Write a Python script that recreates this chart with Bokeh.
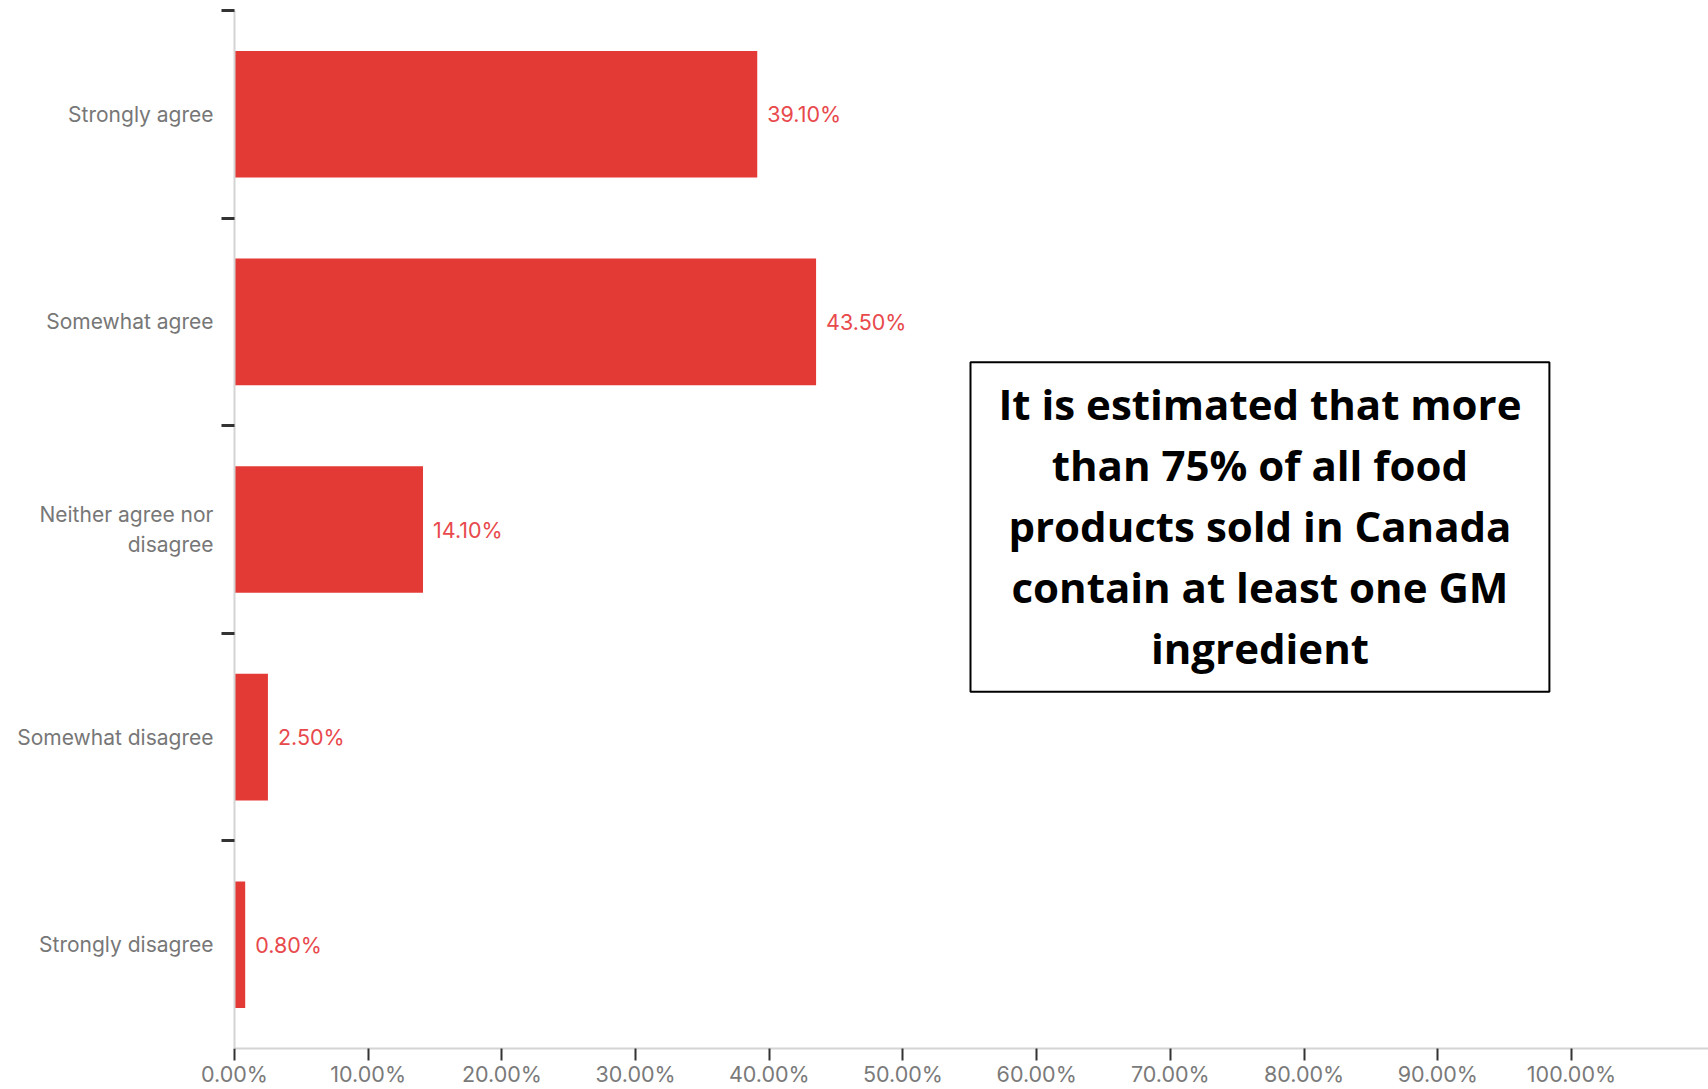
from bokeh.plotting import figure
from bokeh.models import FixedTicker, Range1d
from bokeh.core.properties import value
from bokeh.embed import file_html
from bokeh.resources import INLINE

# ---- data ----
categories = ["Strongly agree", "Somewhat agree", "Neither agree nor\ndisagree",
              "Somewhat disagree", "Strongly disagree"]
percentages = [39.1, 43.5, 14.1, 2.5, 0.8]
value_labels = ["39.10%", "43.50%", "14.10%", "2.50%", "0.80%"]
x_ticks = [0, 10, 20, 30, 40, 50, 60, 70, 80, 90, 100]
x_tick_labels = ["0.00%", "10.00%", "20.00%", "30.00%", "40.00%", "50.00%",
                 "60.00%", "70.00%", "80.00%", "90.00%", "100.00%"]
note_lines = ["It is estimated that more", "than 75% of all food",
              "products sold in Canada", "contain at least one GM", "ingredient"]

# layout helpers (band positions on a numeric axis, top category at top)
n = len(categories)
centers = [n - i - 0.5 for i in range(n)]
boundaries = [float(b) for b in range(1, n + 1)]

# note box in data units
box_left, box_right, box_top, box_bottom = 55.05, 98.35, 3.306, 1.718
note_x = [(box_left + box_right) / 2] * len(note_lines)
note_y = [5 - (b - 9.7) / 207.8 for b in [403, 464, 525, 586, 647]]

FONT = "Inter"
BAR = "#e43a36"

p = figure(width=1708, height=1089, output_backend="svg", toolbar_location=None,
           x_range=Range1d(0, 110.25), y_range=Range1d(0, 5))
p.min_border_left = 234
p.min_border_top = 10
p.min_border_bottom = 30
p.min_border_right = 0
p.outline_line_color = None
p.xgrid.grid_line_color = None
p.ygrid.grid_line_color = None
p.background_fill_color = "white"
p.border_fill_color = "white"

p.hbar(y=centers, right=percentages, left=0, height=0.61, color=BAR, line_color=None)
p.text(x=percentages, y=centers, text=value_labels, x_offset=10,
       text_baseline="middle", text_align="left", text_color="#e8494c",
       text_font=value(FONT), text_font_size="21.5px")

# note box
p.quad(left=[box_left], right=[box_right], top=[box_top], bottom=[box_bottom],
       fill_color="white", line_color="black", line_width=2)
p.text(x=note_x, y=note_y, text=note_lines, text_align="center",
       text_baseline="alphabetic", text_color="black",
       text_font=value("Open Sans"), text_font_style="bold", text_font_size="42px")

# x axis
xa = p.xaxis[0]
xa.ticker = FixedTicker(ticks=x_ticks, minor_ticks=[])
xa.major_label_overrides = {t: l for t, l in zip(x_ticks, x_tick_labels)}
xa.axis_line_color = "#d4d4d4"
xa.axis_line_width = 2
xa.major_tick_line_color = "#333333"
xa.major_tick_line_width = 2
xa.major_tick_in = 0
xa.major_tick_out = 12
xa.minor_tick_line_color = None
xa.major_label_standoff = 0
xa.major_label_text_font = FONT
xa.major_label_text_font_size = "21.5px"
xa.major_label_text_color = "#7a7a7a"

# y axis
ya = p.yaxis[0]
ya.ticker = FixedTicker(ticks=centers, minor_ticks=boundaries)
ya.major_label_overrides = {c: l for c, l in zip(centers, categories)}
ya.axis_line_color = "#d4d4d4"
ya.axis_line_width = 2
ya.major_tick_line_color = None
ya.major_tick_in = 0
ya.major_tick_out = 13
ya.minor_tick_line_color = "#333333"
ya.minor_tick_line_width = 3
ya.minor_tick_in = 0
ya.minor_tick_out = 13
ya.major_label_standoff = 8
ya.major_label_text_font = FONT
ya.major_label_text_font_size = "21px"
ya.major_label_text_color = "#777777"

open("out.html", "w").write(file_html(p, INLINE))
